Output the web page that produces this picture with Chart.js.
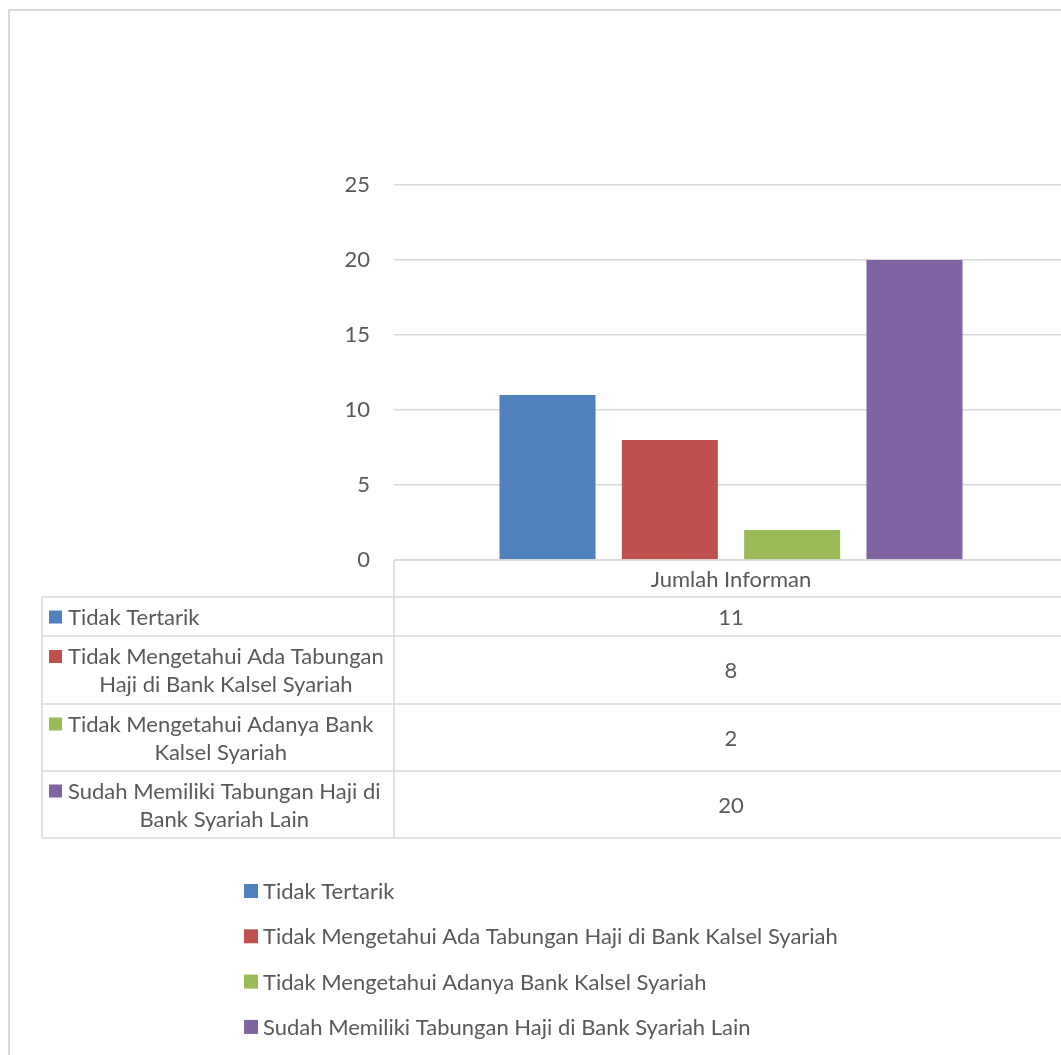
<!DOCTYPE html>
<html>
<head>
<meta charset="utf-8">
<script src="https://cdn.jsdelivr.net/npm/chart.js@4/dist/chart.umd.min.js"></script>
<style>
  html, body { margin: 0; padding: 0; background: #fff; overflow: hidden; }
  #frame { position: absolute; left: 8px; top: 9px; width: 1200px; height: 1200px;
           border-left: 2px solid #d9d9d9; border-top: 2px solid #d9d9d9; }
  #chart { position: absolute; left: 0; top: 0; }
</style>
</head>
<body>
<div id="frame"></div>
<canvas id="chart" width="1075" height="1055"></canvas>
<script>
let categories = ['Jumlah Informan'];
let seriesNames = [
    'Tidak Tertarik',
    'Tidak Mengetahui Ada Tabungan Haji di Bank Kalsel Syariah',
    'Tidak Mengetahui Adanya Bank Kalsel Syariah',
    'Sudah Memiliki Tabungan Haji di Bank Syariah Lain'
];
// how the names wrap inside the data table
let tableLines = [
    ['Tidak Tertarik'],
    ['Tidak Mengetahui Ada Tabungan', 'Haji di Bank Kalsel Syariah'],
    ['Tidak Mengetahui Adanya Bank', 'Kalsel Syariah'],
    ['Sudah Memiliki Tabungan Haji di', 'Bank Syariah Lain']
];
let seriesValues = [11, 8, 2, 20];
let yTicks = [0, 5, 10, 15, 20, 25];

let color = ['#4F81BD', '#C0504D', '#9BBB59', '#8064A2'];
let textColor = '#595959';
let lineColor = '#d9d9d9';
let fontFamily = 'Lato, "Open Sans", sans-serif';
let fontSize = 22;

let tablePlugin = {
    id: 'dataTable',
    afterDraw: (chart) => {
        let c = chart.ctx;
        let area = chart.chartArea;
        let xs = chart.scales.x;
        let rightEdge = chart.width;
        let tableLeft = 42;
        let headTop = area.bottom;
        let rowTops = [597, 636, 704, 771, 838];

        c.save();
        c.strokeStyle = lineColor;
        c.lineWidth = 1.5;
        c.beginPath();
        // header row
        c.moveTo(area.left, headTop); c.lineTo(rightEdge, headTop);
        rowTops.forEach(y => { c.moveTo(tableLeft, y); c.lineTo(rightEdge, y); });
        c.moveTo(area.left, headTop); c.lineTo(area.left, rowTops[rowTops.length - 1]);
        c.moveTo(tableLeft, rowTops[0]); c.lineTo(tableLeft, rowTops[rowTops.length - 1]);
        c.stroke();

        c.font = fontSize + 'px ' + fontFamily;
        c.fillStyle = textColor;
        c.textBaseline = 'middle';
        c.textAlign = 'center';
        categories.forEach((cat, i) => {
            c.fillText(cat, xs.getPixelForValue(i), (headTop + rowTops[0]) / 2 + 1);
        });

        seriesNames.forEach((name, i) => {
            let top = rowTops[i], bottom = rowTops[i + 1];
            let mid = (top + bottom) / 2;
            let lines = tableLines[i];
            let lh = 28;
            let firstY = mid - (lines.length - 1) * lh / 2;
            // value cell
            c.fillStyle = textColor;
            c.textAlign = 'center';
            c.fillText(String(seriesValues[i]), xs.getPixelForValue(0), mid + 1);
            // swatch
            c.fillStyle = color[i];
            c.fillRect(49, firstY - 6, 13, 13);
            // label block, lines centred on each other
            let w = Math.max(...lines.map(l => c.measureText(l).width));
            let cx = 68 + (lines.length > 1 ? w / 2 : 0);
            c.fillStyle = textColor;
            c.textAlign = lines.length > 1 ? 'center' : 'left';
            lines.forEach((l, j) => {
                c.fillText(l, lines.length > 1 ? cx : 68, firstY + j * lh + 1);
            });
        });

        // legend under the chart
        c.textAlign = 'left';
        seriesNames.forEach((name, i) => {
            let y = 891 + i * 45.3;
            c.fillStyle = color[i];
            c.fillRect(244, y - 7, 14, 14);
            c.fillStyle = textColor;
            c.fillText(name, 263, y + 1);
        });
        c.restore();
    }
};

let ctx = document.getElementById('chart').getContext('2d');
let chart = new Chart(ctx, {
    type: 'bar',
    data: {
        labels: categories,
        datasets: seriesNames.map((name, i) => ({
            label: name,
            data: [seriesValues[i]],
            backgroundColor: color[i],
            borderWidth: 0,
            categoryPercentage: 0.726,
            barPercentage: 0.785
        }))
    },
    options: {
        responsive: false,
        animation: false,
        devicePixelRatio: 1,
        layout: {
            padding: { left: 0, top: 185, right: 7, bottom: 495 }
        },
        plugins: {
            legend: { display: false },
            tooltip: { enabled: false },
            title: { display: false }
        },
        scales: {
            x: {
                grid: { display: false },
                border: { display: false },
                ticks: { display: false },
                afterFit: (scale) => { scale.height = 0; }
            },
            y: {
                min: yTicks[0],
                max: yTicks[yTicks.length - 1],
                afterBuildTicks: (scale) => { scale.ticks = yTicks.map(v => ({ value: v })); },
                afterFit: (scale) => { scale.width = 394; },
                grid: { color: lineColor, lineWidth: 1.5, drawTicks: false },
                border: { display: false },
                ticks: {
                    padding: 24,
                    color: textColor,
                    font: { family: fontFamily, size: fontSize }
                }
            }
        }
    },
    plugins: [tablePlugin]
});
</script>
</body>
</html>
